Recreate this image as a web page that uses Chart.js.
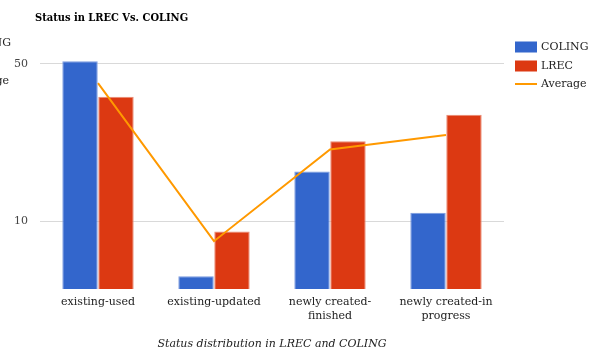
<!DOCTYPE html>
<html>
<head>
<meta charset="utf-8">
<script src="https://cdn.jsdelivr.net/npm/chart.js@4/dist/chart.umd.min.js"></script>
<style>
  html, body { margin: 0; padding: 0; background: #fff; }
  #wrap { width: 600px; height: 356px; position: relative; }
</style>
</head>
<body>
<div id="wrap"><canvas id="myChart"></canvas></div>
<script>
// dados do gráfico
const categorias = [['existing-used'], ['existing-updated'], ['newly created-', 'finished'], ['newly created-in', 'progress']];
const coling = [51.2, 5.7, 16.6, 10.9];
const lrec = [35.7, 9, 22.6, 29.7];
const media = [41, 8.15, 20.8, 24.1];
const yTicks = [10, 50];

const serif = "'DejaVu Serif', serif";

// título, legenda e os textos cortados da esquerda
const extras = {
    id: 'extras',
    afterDraw(chart) {
        const ctx = chart.ctx;
        ctx.save();
        ctx.textBaseline = 'middle';

        ctx.fillStyle = '#000';
        ctx.font = "bold 11px 'DejaVu Serif Condensed', 'DejaVu Serif', serif";
        ctx.textAlign = 'left';
        ctx.fillText('Status in LREC Vs. COLING', 35, 18);

        ctx.font = '11px ' + serif;
        ctx.fillStyle = '#222';
        ctx.textAlign = 'right';
        ctx.fillText('COLING', 11, 43);
        ctx.fillText('Average', 9, 81);

        // legenda à direita: barras primeiro, depois a linha
        const ds = chart.data.datasets;
        const ordem = [1, 2, 0];
        const rows = [47, 66, 84];
        ctx.textAlign = 'left';
        ordem.forEach((idx, i) => {
            const d = ds[idx];
            const y = rows[i];
            if (d.type === 'line') {
                ctx.strokeStyle = d.borderColor;
                ctx.lineWidth = 2;
                ctx.beginPath();
                ctx.moveTo(515, y);
                ctx.lineTo(537, y);
                ctx.stroke();
            } else {
                ctx.fillStyle = d.backgroundColor;
                ctx.fillRect(515, y - 5.5, 22, 11);
            }
            ctx.fillStyle = '#222';
            ctx.fillText(d.label, 541, y);
        });
        ctx.restore();
    }
};

const ctx = document.getElementById('myChart').getContext('2d');
new Chart(ctx, {
    type: 'bar',
    data: {
        labels: categorias,
        datasets: [
            {
                type: 'line',
                label: 'Average',
                data: media,
                borderColor: '#ff9900',
                borderWidth: 2,
                pointRadius: 0,
                fill: false,
                tension: 0,
                order: 0
            },
            {
                label: 'COLING',
                data: coling,
                backgroundColor: '#3366cc',
                borderColor: '#7a9be0',
                borderWidth: 1,
                order: 1
            },
            {
                label: 'LREC',
                data: lrec,
                backgroundColor: '#dc3912',
                borderColor: '#ea8a73',
                borderWidth: 1,
                order: 1
            }
        ]
    },
    options: {
        responsive: true,
        maintainAspectRatio: false,
        animation: false,
        layout: { padding: { top: 39.5, right: 96, left: 0, bottom: 0 } },
        datasets: { bar: { barPercentage: 0.985, categoryPercentage: 0.62 } },
        scales: {
            x: {
                grid: { display: false, drawTicks: false },
                border: { display: false },
                ticks: {
                    color: '#222',
                    padding: 7,
                    maxRotation: 0,
                    autoSkip: false,
                    font: { family: serif, size: 11, lineHeight: 1.2 }
                },
                title: {
                    display: true,
                    text: 'Status distribution in LREC and COLING',
                    color: '#222',
                    padding: { top: 0, bottom: 5 },
                    font: { family: serif, size: 11, style: 'italic' }
                },
                afterFit(scale) { scale.height = 67; }
            },
            y: {
                type: 'logarithmic',
                min: 5,
                max: 64,
                afterBuildTicks(scale) {
                    scale.ticks = yTicks.map(v => ({ value: v }));
                },
                grid: { color: '#d9d9d9', drawTicks: false },
                border: { display: false },
                ticks: {
                    color: '#444',
                    padding: 12,
                    font: { family: serif, size: 11 },
                    callback: v => String(v)
                },
                afterFit(scale) { scale.width = 40; }
            }
        },
        plugins: {
            legend: { display: false },
            title: { display: false },
            tooltip: { enabled: false }
        }
    },
    plugins: [extras]
});
</script>
</body>
</html>
